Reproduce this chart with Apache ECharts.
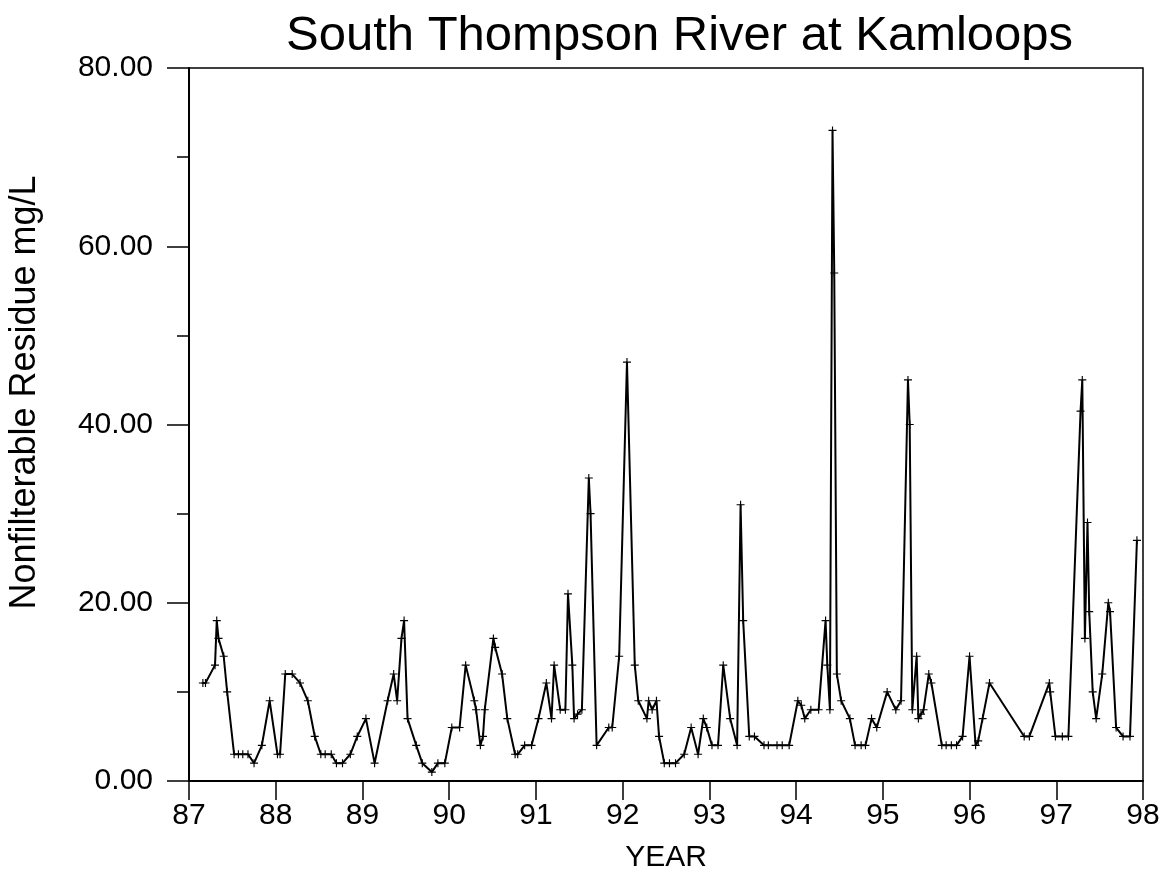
<!DOCTYPE html>
<html>
<head>
<meta charset="utf-8">
<script src="https://cdn.jsdelivr.net/npm/echarts@6/dist/echarts.min.js"></script>
<style>
	html, body { margin: 0; padding: 0; background: #fff; }
	#chart { width: 1163px; height: 886px; }
</style>
</head>
<body>
<div id="chart"></div>
<script>
// sample dates (decimal year, 87 = 1987) and nonfilterable residue (mg/L)
const years = [
	87.16, 87.19, 87.30, 87.32, 87.34, 87.40, 87.44, 87.52, 87.57, 87.62,
	87.68, 87.75, 87.84, 87.93, 88.02, 88.05, 88.11, 88.19, 88.28, 88.37,
	88.45, 88.52, 88.57, 88.64, 88.70, 88.77, 88.86, 88.94, 89.04, 89.14,
	89.29, 89.36, 89.40, 89.45, 89.48, 89.52, 89.62, 89.69, 89.80, 89.87,
	89.95, 90.03, 90.12, 90.19, 90.29, 90.31, 90.36, 90.39, 90.41, 90.51,
	90.53, 90.61, 90.67, 90.76, 90.79, 90.87, 90.95, 91.03, 91.12, 91.18,
	91.21, 91.28, 91.34, 91.37, 91.42, 91.44, 91.48, 91.53, 91.61, 91.63,
	91.70, 91.84, 91.88, 91.96, 92.05, 92.14, 92.18, 92.28, 92.30, 92.34,
	92.39, 92.42, 92.48, 92.54, 92.61, 92.71, 92.79, 92.87, 92.93, 92.97,
	93.03, 93.10, 93.16, 93.24, 93.32, 93.36, 93.39, 93.46, 93.52, 93.63,
	93.68, 93.78, 93.84, 93.92, 94.02, 94.06, 94.10, 94.17, 94.26, 94.34,
	94.36, 94.39, 94.42, 94.44, 94.47, 94.52, 94.62, 94.68, 94.75, 94.80,
	94.87, 94.93, 95.05, 95.15, 95.21, 95.29, 95.31, 95.34, 95.39, 95.41,
	95.44, 95.47, 95.53, 95.56, 95.68, 95.73, 95.79, 95.85, 95.92, 96.00,
	96.07, 96.10, 96.15, 96.23, 96.63, 96.69, 96.92, 96.93, 96.99, 97.07,
	97.14, 97.28, 97.30, 97.33, 97.36, 97.38, 97.42, 97.46, 97.53, 97.60,
	97.62, 97.69, 97.77, 97.85, 97.93
];
const residue = [
	11, 11, 13, 18, 16, 14, 10, 3, 3, 3,
	3, 2, 4, 9, 3, 3, 12, 12, 11, 9,
	5, 3, 3, 3, 2, 2, 3, 5, 7, 2,
	9, 12, 9, 16, 18, 7, 4, 2, 1, 2,
	2, 6, 6, 13, 9, 8, 4, 5, 8, 16,
	15, 12, 7, 3, 3, 4, 4, 7, 11, 7,
	13, 8, 8, 21, 13, 7, 7.5, 8, 34, 30,
	4, 6, 6, 14, 47, 13, 9, 7, 9, 8,
	9, 5, 2, 2, 2, 3, 6, 3, 7, 6,
	4, 4, 13, 7, 4, 31, 18, 5, 5, 4,
	4, 4, 4, 4, 9, 8.5, 7, 8, 8, 18,
	13, 8, 73, 57, 12, 9, 7, 4, 4, 4,
	7, 6, 10, 8, 9, 45, 40, 8, 14, 7,
	7.5, 8, 12, 11, 4, 4, 4, 4, 5, 14,
	4, 4.5, 7, 11, 5, 5, 11, 10, 5, 5,
	5, 41.5, 45, 16, 29, 19, 10, 7, 12, 20,
	19, 6, 5, 5, 27
];
const yearTicks = [87, 88, 89, 90, 91, 92, 93, 94, 95, 96, 97, 98];
const residueTicks = [0, 20, 40, 60, 80];

const points = years.map((x, i) => [x, residue[i]]);
const plusMark = 'path://M3,0h1v3h3v1h-3v3h-1v-3h-3v-1h3z';
const font = '"Liberation Sans", Arial, sans-serif';

const chart = echarts.init(document.getElementById('chart'));
const option = {
	backgroundColor: '#fff',
	animation: false,
	title: {
		text: 'South Thompson River at Kamloops',
		left: 281,
		top: 7,
		textStyle: { fontFamily: font, fontSize: 49, fontWeight: 'normal', color: '#000' }
	},
	grid: {
		left: 189,
		right: 20,
		top: 68,
		bottom: 105,
		outerBoundsMode: 'none',
		show: true,
		borderColor: '#000',
		borderWidth: 1.5,
		backgroundColor: 'transparent'
	},
	xAxis: {
		type: 'value',
		min: yearTicks[0],
		max: yearTicks[yearTicks.length - 1],
		interval: 1,
		name: 'YEAR',
		nameLocation: 'middle',
		nameGap: 62,
		nameTextStyle: { fontFamily: font, fontSize: 30, color: '#000' },
		axisLine: { show: true, lineStyle: { color: '#000', width: 2 } },
		axisTick: { show: true, length: 19, lineStyle: { color: '#000', width: 1.5 } },
		axisLabel: { margin: 20, fontFamily: font, fontSize: 30, color: '#000' },
		splitLine: { show: false }
	},
	yAxis: {
		type: 'value',
		min: residueTicks[0],
		max: residueTicks[residueTicks.length - 1],
		interval: 20,
		name: 'Nonfilterable Residue mg/L',
		nameLocation: 'middle',
		nameGap: 146,
		nameRotate: 90,
		nameTextStyle: { fontFamily: font, fontSize: 36, color: '#000', padding: [0, 0, 0, 64] },
		axisLine: { show: true, lineStyle: { color: '#000', width: 2 } },
		axisTick: { show: true, length: 22, lineStyle: { color: '#000', width: 1.5 } },
		minorTick: { show: true, splitNumber: 2, length: 12, lineStyle: { color: '#000', width: 1.5 } },
		axisLabel: {
			margin: 36,
			fontFamily: font,
			fontSize: 30,
			color: '#000',
			formatter: v => v.toFixed(2)
		},
		splitLine: { show: false }
	},
	series: [{
		type: 'line',
		data: points,
		symbol: plusMark,
		symbolSize: 8,
		showAllSymbol: true,
		itemStyle: { color: '#000' },
		lineStyle: { color: '#000', width: 2 }
	}]
};
chart.setOption(option);
</script>
</body>
</html>
